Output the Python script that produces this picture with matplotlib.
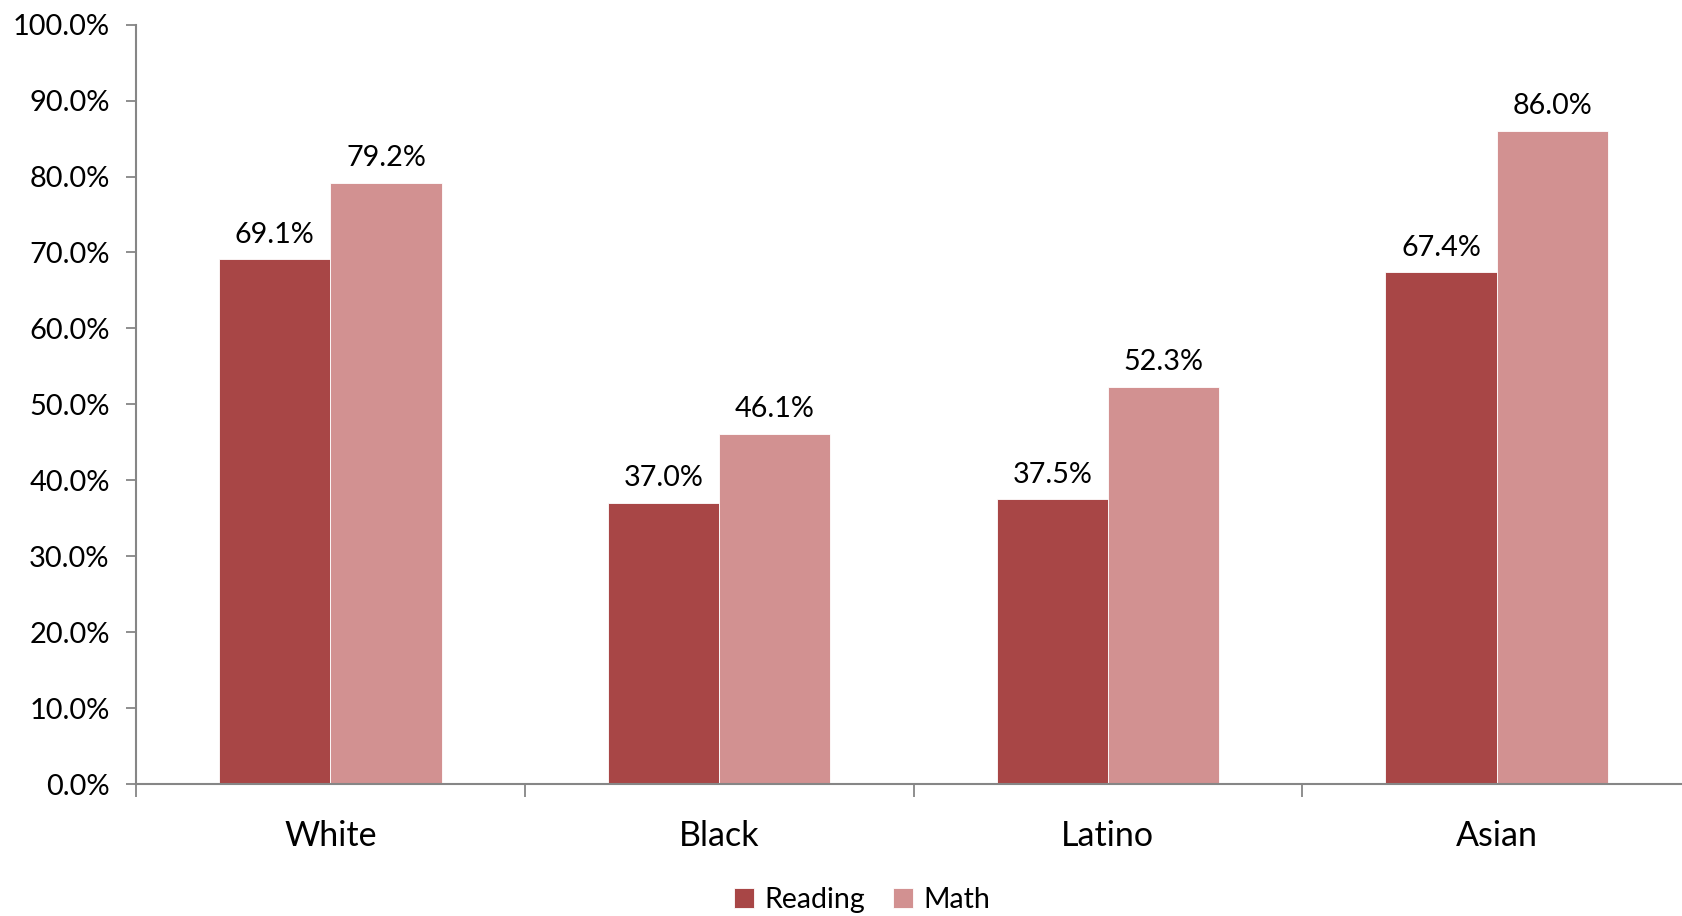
import matplotlib.pyplot as plt
import numpy as np

# Data
groups = ["White", "Black", "Latino", "Asian"]
reading = [69.1, 37.0, 37.5, 67.4]
math = [79.2, 46.1, 52.3, 86.0]
yticks = [0, 10, 20, 30, 40, 50, 60, 70, 80, 90, 100]

plt.rcParams['font.family'] = ['Lato', 'DejaVu Sans']

fig = plt.figure(figsize=(16.82, 9.16), dpi=100)
ax = fig.add_axes([0.0809, 0.1441, 0.9191, 0.829])

x = np.arange(len(groups))
w = 0.286
b1 = ax.bar(x - w / 2, reading, w, color='#A84646', edgecolor='white', linewidth=0.6, label='Reading')
b2 = ax.bar(x + w / 2, math, w, color='#D29191', edgecolor='white', linewidth=0.6, label='Math')

# Value labels
for bars, vals in ((b1, reading), (b2, math)):
    for rect, v in zip(bars, vals):
        ax.annotate(f"{v:.1f}%", (rect.get_x() + rect.get_width() / 2, v),
                    xytext=(0, 12), textcoords='offset points',
                    ha='center', va='baseline', fontsize=20.7)

ax.set_xlim(-0.5, 3.477)
ax.set_ylim(0, 100)
ax.set_yticks(yticks)
ax.set_yticklabels([f"{t:.1f}%" for t in yticks])

# Category labels centred, ticks on boundaries
ax.set_xticks(x)
ax.set_xticklabels(groups, fontsize=24.5)
ax.tick_params(axis='x', which='major', length=0, pad=26)
ax.set_xticks(np.arange(-0.5, 3.5, 1), minor=True)
ax.tick_params(axis='x', which='minor', length=9, width=1.3, color='#868686', direction='out')
ax.tick_params(axis='y', length=7, width=1.3, color='#868686', direction='out', pad=12, labelsize=20.9)

for s in ('top', 'right'):
    ax.spines[s].set_visible(False)
for s in ('left', 'bottom'):
    ax.spines[s].set_color('#868686')
    ax.spines[s].set_linewidth(1.5)

leg = fig.legend(handles=[b1, b2], loc='center', bbox_to_anchor=(0.5125, 0.018),
                 ncol=2, frameon=False, fontsize=20.5, handlelength=0.7, handleheight=0.7,
                 handletextpad=0.35, columnspacing=1.0)

fig.savefig('out.png', dpi=100)
